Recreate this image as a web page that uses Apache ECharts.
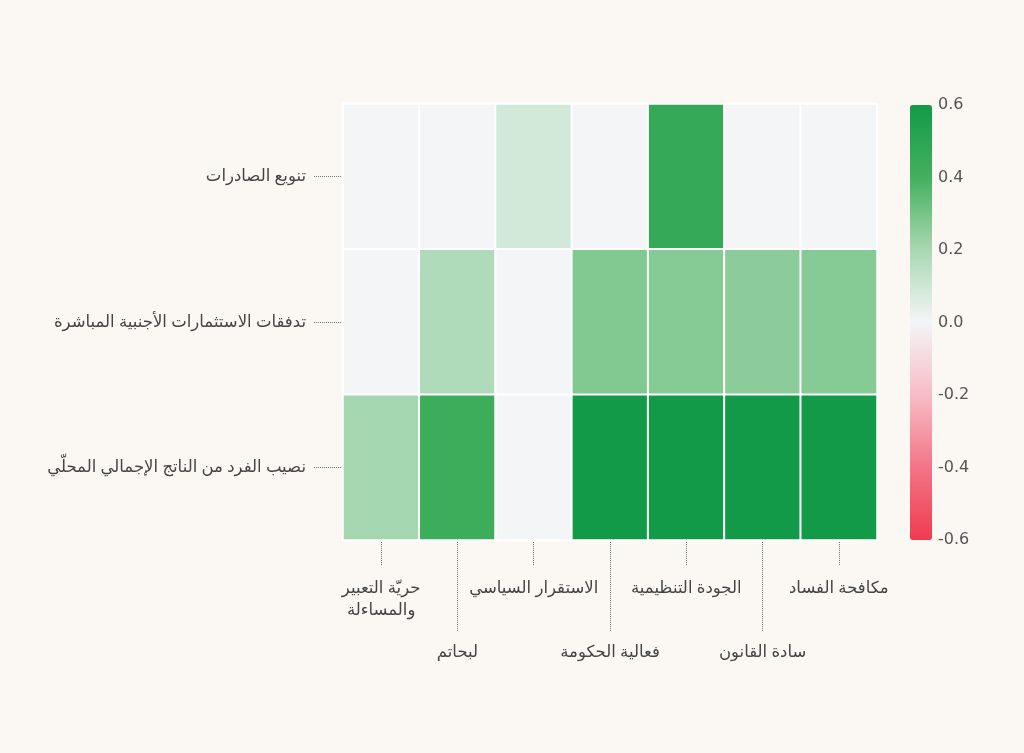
<!DOCTYPE html>
<html>
<head>
<meta charset="utf-8">
<script src="https://cdn.jsdelivr.net/npm/echarts@6/dist/echarts.min.js"></script>
<style>
  html, body { margin: 0; padding: 0; background: #fbf8f3; }
  #chart { width: 1024px; height: 753px; }
</style>
</head>
<body>
<div id="chart"></div>
<script>
// indicators (x) and outcomes (y)
const indicators = [
  'حريّة التعبير\nوالمساءلة',
  'لبحاتم',
  'الاستقرار السياسي',
  'فعالية الحكومة',
  'الجودة التنظيمية',
  'سادة القانون',
  'مكافحة الفساد'
];
const outcomes = [
  'تنويع الصادرات',
  'تدفقات الاستثمارات الأجنبية المباشرة',
  'نصيب الفرد من الناتج الإجمالي المحلّي'
];
// one row per outcome, values per indicator
const exportDiv = [0, 0, 0.09, 0, 0.46, 0, 0];
const fdiFlows = [0, 0.18, 0, 0.28, 0.27, 0.26, 0.27];
const gdpPerCap = [0.21, 0.43, 0, 0.6, 0.6, 0.6, 0.6];

const rows = [exportDiv, fdiFlows, gdpPerCap];
let cells = [];
rows.forEach((r, y) => r.forEach((v, x) => cells.push([x, y, v])));

const font = 'Noto Sans, DejaVu Sans, sans-serif';
const chart = echarts.init(document.getElementById('chart'));

const tickStyle = { type: 'dotted', color: '#777', width: 1 };

chart.setOption({
  backgroundColor: '#fbf8f3',
  animation: false,
  textStyle: { fontFamily: font },
  grid: [
    { left: 343, right: 147, top: 104, bottom: 213, show: true, backgroundColor: '#fff', borderWidth: 0 },
    { left: 930, width: 1, top: 105, height: 435 }
  ],
  xAxis: [
    {
      type: 'category', gridIndex: 0, data: indicators,
      axisLine: { show: false },
      axisTick: { show: true, alignWithLabel: true, length: 26, lineStyle: tickStyle,
        interval: (i) => i % 2 === 0 },
      axisLabel: { interval: (i) => i % 2 === 0, margin: 37, fontSize: 16.5, color: '#444',
        lineHeight: 22, fontFamily: font },
      splitLine: { show: false }
    },
    {
      type: 'category', gridIndex: 0, data: indicators, position: 'bottom',
      axisLine: { show: false },
      axisTick: { show: true, alignWithLabel: true, length: 92, lineStyle: tickStyle,
        interval: (i) => i % 2 === 1 },
      axisLabel: { interval: (i) => i % 2 === 1, margin: 101, fontSize: 16.5, color: '#444',
        lineHeight: 22, fontFamily: font },
      splitLine: { show: false }
    },
    { type: 'value', gridIndex: 1, show: false }
  ],
  yAxis: [
    {
      type: 'category', gridIndex: 0, data: outcomes, inverse: true,
      axisLine: { show: false },
      axisTick: { show: true, alignWithLabel: true, length: 30, lineStyle: tickStyle },
      axisLabel: { margin: 37, fontSize: 16.5, color: '#444', fontFamily: font },
      splitLine: { show: false }
    },
    {
      type: 'value', gridIndex: 1, position: 'right', min: -0.6, max: 0.6, interval: 0.2,
      axisLine: { show: false }, axisTick: { show: false }, splitLine: { show: false },
      axisLabel: { margin: 7, fontSize: 16, color: '#555', fontFamily: 'DejaVu Sans',
        formatter: (v) => (Math.round(v * 10) / 10).toFixed(1) }
    }
  ],
  visualMap: {
    type: 'continuous', min: -0.6, max: 0.6, calculable: false,
    left: 895, top: 90, itemWidth: 22, itemHeight: 435,
    text: null,
    formatter: () => '',
    inRange: { color: ['#ef3b50', '#f37587', '#f8bcc6', '#f4f5f7', '#a9d8b3', '#44b05e', '#129a48'] },
    seriesIndex: 0
  },
  series: [{
    type: 'heatmap', xAxisIndex: 0, yAxisIndex: 0,
    data: cells,
    itemStyle: { borderColor: '#fff', borderWidth: 2 },
    label: { show: false }
  }]
});
</script>
</body>
</html>
